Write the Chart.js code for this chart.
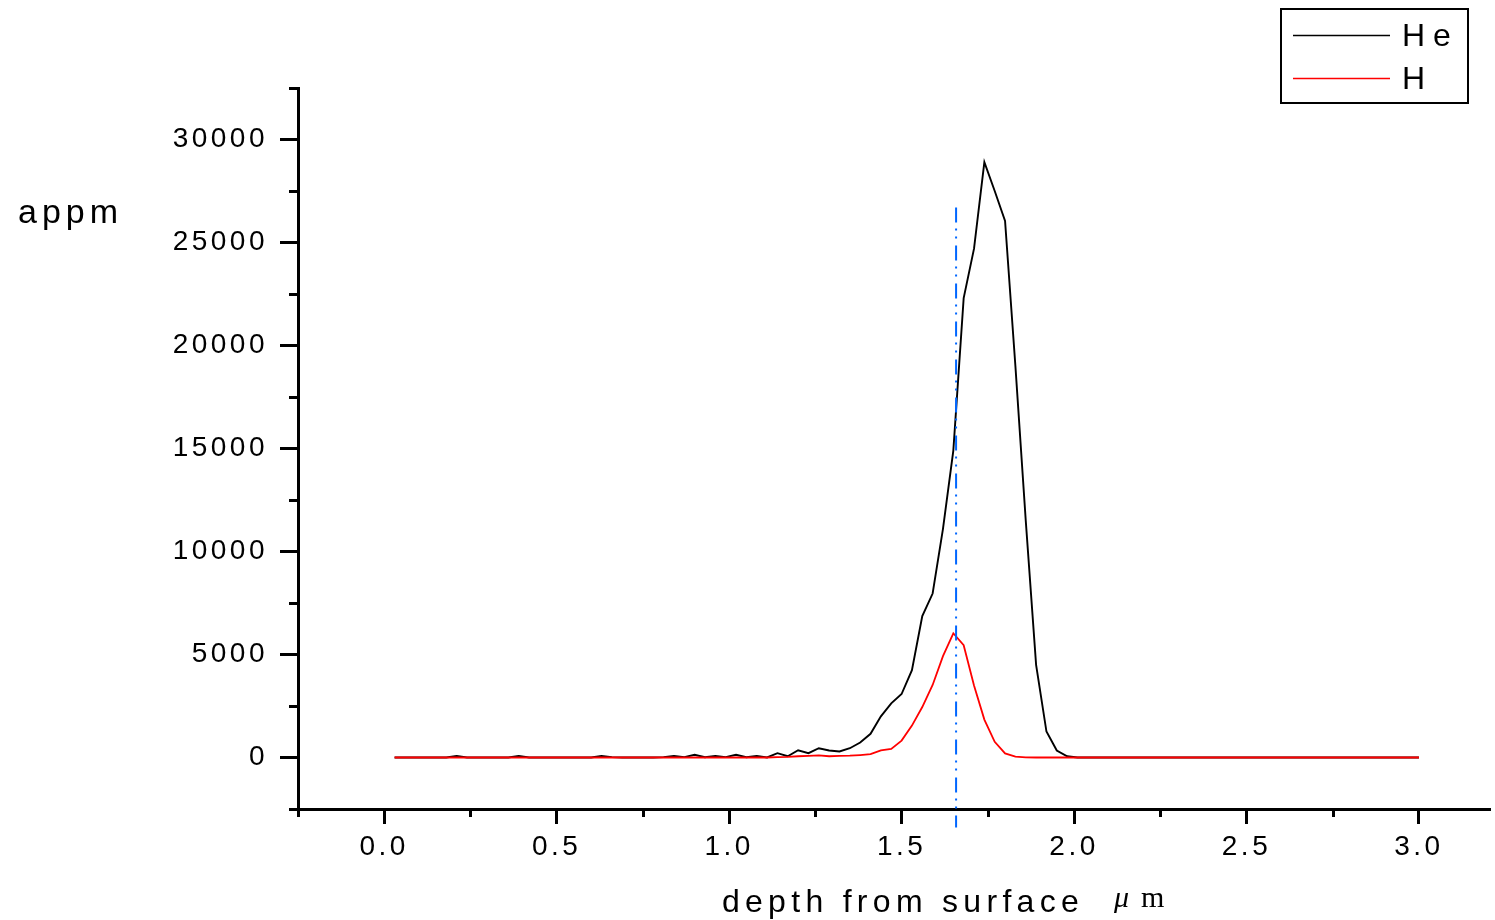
<!DOCTYPE html>
<html>
<head>
<meta charset="utf-8">
<script src="https://cdn.jsdelivr.net/npm/chart.js@4/dist/chart.umd.min.js"></script>
<style>
  html, body { margin: 0; padding: 0; background: #fff; }
  canvas { display: block; }
</style>
</head>
<body>
<canvas id="graph" width="1495" height="920"></canvas>
<script>
// depth (µm)
const depth = [
  0.03, 0.06, 0.09, 0.12, 0.15, 0.18, 0.21, 0.24, 0.27, 0.30,
  0.33, 0.36, 0.39, 0.42, 0.45, 0.48, 0.51, 0.54, 0.57, 0.60,
  0.63, 0.66, 0.69, 0.72, 0.75, 0.78, 0.81, 0.84, 0.87, 0.90,
  0.93, 0.96, 0.99, 1.02, 1.05, 1.08, 1.11, 1.14, 1.17, 1.20,
  1.23, 1.26, 1.29, 1.32, 1.35, 1.38, 1.41, 1.44, 1.47, 1.50,
  1.53, 1.56, 1.59, 1.62, 1.65, 1.68, 1.71, 1.74, 1.77, 1.80,
  1.83, 1.86, 1.89, 1.92, 1.95, 1.98, 2.01, 2.04, 2.07, 2.10,
  2.13, 2.16, 2.19, 2.22, 2.25, 2.28, 2.31, 2.34, 2.37, 2.40,
  2.43, 2.46, 2.49, 2.52, 2.55, 2.58, 2.61, 2.64, 2.67, 2.70,
  2.73, 2.76, 2.79, 2.82, 2.85, 2.88, 2.91, 2.94, 2.97, 3.00,
];

// He (appm)
const heAppm = [
  0, 0, 0, 0, 0, 0, 80, 0, 0, 0,
  0, 0, 80, 0, 0, 0, 0, 0, 0, 0,
  80, 20, 0, 0, 0, 0, 20, 80, 20, 130,
  10, 80, 20, 130, 10, 80, 0, 210, 60, 350,
  210, 450, 340, 290, 450, 730, 1150, 2000, 2630, 3080,
  4240, 6870, 7960, 11100, 14900, 22300, 24700, 28900, 27500, 26050,
  19000, 11500, 4500, 1260, 340, 60, 0, 0, 0, 0,
  0, 0, 0, 0, 0, 0, 0, 0, 0, 0,
  0, 0, 0, 0, 0, 0, 0, 0, 0, 0,
  0, 0, 0, 0, 0, 0, 0, 0, 0, 0,
];

// H (appm)
const hAppm = [
  0, 0, 0, 0, 0, 0, 0, 0, 0, 0,
  0, 0, 0, 0, 0, 0, 0, 0, 0, 0,
  0, 0, 0, 0, 0, 0, 0, 0, 0, 0,
  0, 0, 0, 0, 0, 0, 0, 20, 30, 60,
  80, 100, 60, 80, 90, 120, 160, 350, 420, 820,
  1550, 2450, 3520, 4920, 6030, 5450, 3500, 1840, 760, 200,
  40, 10, 0, 0, 0, 0, 0, 0, 0, 0,
  0, 0, 0, 0, 0, 0, 0, 0, 0, 0,
  0, 0, 0, 0, 0, 0, 0, 0, 0, 0,
  0, 0, 0, 0, 0, 0, 0, 0, 0, 0,
];

// H peak marker (dash-dot line)
const markerDepth = 1.658;
const markerRange = [26700, -3400];

// ticks
const xTicks = [0, 0.5, 1.0, 1.5, 2.0, 2.5, 3.0];
const xMinor = [-0.25, 0.25, 0.75, 1.25, 1.75, 2.25, 2.75];
const yTicks = [0, 5000, 10000, 15000, 20000, 25000, 30000];
const yMinor = [-2500, 2500, 7500, 12500, 17500, 22500, 27500, 32500];

const FONT = '"Liberation Sans", Arial, sans-serif';
const SERIF = '"Liberation Serif", "Times New Roman", serif';

// 文字間隔（目盛りラベル）
const spacing = {
  id: 'spacing',
  beforeUpdate(chart) { chart.ctx.letterSpacing = '3.5px'; },
  beforeLayout(chart) { chart.ctx.letterSpacing = '3.5px'; },
  beforeDraw(chart) { chart.ctx.letterSpacing = '3.5px'; },
};

// 補助目盛り・軸タイトル・凡例
const extras = {
  id: 'extras',
  afterDraw(chart) {
    const { ctx, scales: { x, y } } = chart;
    ctx.save();
    ctx.strokeStyle = '#000';
    ctx.lineWidth = 3;
    ctx.beginPath();
    xMinor.forEach((v) => {
      const px = Math.round(x.getPixelForValue(v)) + 0.5;
      ctx.moveTo(px, x.top);
      ctx.lineTo(px, x.top + 8);
    });
    yMinor.forEach((v) => {
      const py = Math.round(y.getPixelForValue(v)) + 0.5;
      ctx.moveTo(y.right, py);
      ctx.lineTo(y.right - 9, py);
    });
    ctx.stroke();

    ctx.fillStyle = '#000';
    ctx.textBaseline = 'alphabetic';

    // y title
    ctx.letterSpacing = '5px';
    ctx.font = '34px ' + FONT;
    ctx.textAlign = 'left';
    ctx.fillText('appm', 18, 223);

    // x title
    ctx.letterSpacing = '5.3px';
    ctx.font = '32px ' + FONT;
    ctx.textAlign = 'center';
    ctx.fillText('depth from surface', 903, 912);

    // unit
    ctx.letterSpacing = '0px';
    ctx.textAlign = 'left';
    ctx.font = 'italic 30px ' + SERIF;
    ctx.fillText('\u03bc', 1114, 907);
    ctx.font = '30px ' + SERIF;
    ctx.fillText('m', 1141, 907);

    // legend
    ctx.lineWidth = 2;
    ctx.strokeRect(1281, 9, 187, 94);
    const items = chart.data.datasets.filter((d) => d.inLegend);
    ctx.font = '32px ' + FONT;
    ctx.letterSpacing = '8px';
    ctx.textBaseline = 'middle';
    items.forEach((d, i) => {
      const ly = 35 + i * 43;
      ctx.strokeStyle = d.borderColor;
      ctx.lineWidth = 1.5;
      ctx.beginPath();
      ctx.moveTo(1293, ly + 0.5);
      ctx.lineTo(1390, ly + 0.5);
      ctx.stroke();
      ctx.fillText(d.label, 1402, ly + 2);
    });
    ctx.restore();
  },
};

const graph = document.getElementById('graph');

new Chart(graph, {
  type: 'line',
  data: {
    datasets: [
      {
        label: 'He',
        inLegend: true,
        data: depth.map((d, i) => ({ x: d, y: heAppm[i] })),
        borderColor: '#000000',
        borderWidth: 1.9,
        pointRadius: 0,
        tension: 0,
        order: 3,
      },
      {
        label: 'H',
        inLegend: true,
        data: depth.map((d, i) => ({ x: d, y: hAppm[i] })),
        borderColor: '#ff0000',
        borderWidth: 1.8,
        pointRadius: 0,
        tension: 0,
        order: 2,
      },
      {
        label: 'peak',
        data: markerRange.map((v) => ({ x: markerDepth, y: v })),
        borderColor: 'rgb(0,102,255)',
        borderWidth: 2,
        borderDash: [15, 6, 2, 6, 2, 7],
        pointRadius: 0,
        clip: false,
        order: 1,
      },
    ],
  },
  plugins: [spacing, extras],
  options: {
    responsive: false,
    animation: false,
    layout: { padding: { top: 88, right: 5, left: 0, bottom: 0 } },
    plugins: {
      legend: { display: false },
      tooltip: { enabled: false },
    },
    scales: {
      x: {
        type: 'linear',
        min: -0.25,
        max: 3.206,
        border: { display: true, color: '#000', width: 3 },
        grid: {
          display: true,
          drawOnChartArea: false,
          drawTicks: true,
          tickLength: 15,
          tickWidth: 3,
          tickColor: '#000',
        },
        ticks: {
          color: '#000',
          font: { family: FONT, size: 28 },
          padding: 6,
          maxRotation: 0,
          callback: (v) => Number(v).toFixed(1),
        },
        afterBuildTicks: (s) => { s.ticks = xTicks.map((v) => ({ value: v })); },
        afterFit: (s) => { s.height = 111; },
      },
      y: {
        type: 'linear',
        min: -2500,
        max: 32500,
        border: { display: true, color: '#000', width: 3 },
        grid: {
          display: true,
          drawOnChartArea: false,
          drawTicks: true,
          tickLength: 18,
          tickWidth: 3,
          tickColor: '#000',
        },
        ticks: {
          color: '#000',
          font: { family: FONT, size: 28 },
          padding: 12,
          callback: (v) => String(v),
        },
        afterBuildTicks: (s) => { s.ticks = yTicks.map((v) => ({ value: v })); },
        afterFit: (s) => { s.width = 298; },
      },
    },
  },
});
</script>
</body>
</html>
